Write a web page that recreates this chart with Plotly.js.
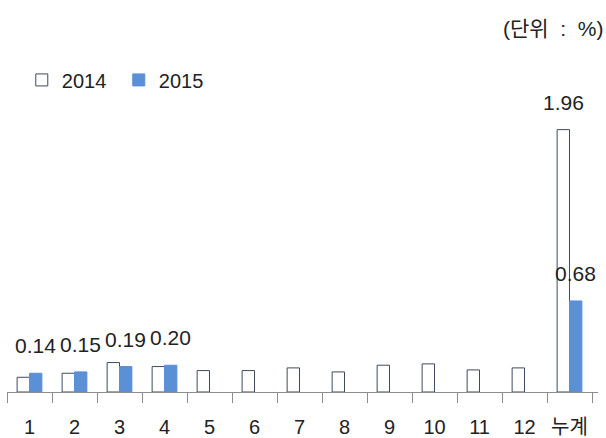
<!DOCTYPE html>
<html>
<head>
<meta charset="utf-8">
<script src="https://cdn.plot.ly/plotly-3.0.1.min.js"></script>
<style>
  html, body { margin: 0; padding: 0; background: #fff; }
  #chart { width: 606px; height: 438px; }
</style>
</head>
<body>
<div id="chart"></div>
<script>
var months = ["1", "2", "3", "4", "5", "6", "7", "8", "9", "10", "11", "12", "누계"]
var rate2014 = [0.11, 0.14, 0.22, 0.19, 0.16, 0.16, 0.18, 0.15, 0.20, 0.21, 0.165, 0.18, 1.96]
var rate2015 = [0.14, 0.15, 0.19, 0.20, null, null, null, null, null, null, null, null, 0.68]

// only these values get a label in the original
var label2014 = [null, null, null, null, null, null, null, null, null, null, null, null, "1.96"]
var label2015 = ["0.14", "0.15", "0.19", "0.20", null, null, null, null, null, null, null, null, "0.68"]

var font = "Liberation Sans, Arial, Noto Sans CJK KR, sans-serif"

var data = [{
    x: months,
    y: rate2014,
    name: "2014",
    type: "bar",
    marker: {color: "#ffffff", line: {color: "#3f4b5a", width: 1}},
    hoverinfo: "none"
}, {
    x: months,
    y: rate2015,
    name: "2015",
    type: "bar",
    marker: {color: "#5b8fd6", line: {color: "#5b8fd6", width: 1}},
    hoverinfo: "none"
}]

var notes = []
var addLabels = function (labels, values, shift) {
    for (let i = 0; i < labels.length; i++) {
        if (labels[i] == null) continue
        // category index, a string like "1" would be read as an index anyway
        notes.push({
            x: i, y: values[i], xref: "x", yref: "y",
            text: labels[i], showarrow: false,
            xshift: shift, yshift: 14, yanchor: "bottom",
            font: {family: font, size: 21, color: "#222"}
        })
    }
}
addLabels(label2014, rate2014, -6)
addLabels(label2015, rate2015, 6)

var sp = "\u00a0\u00a0"
notes.push({
    x: 1, y: 1, xref: "paper", yref: "paper",
    xanchor: "right", yanchor: "middle",
    xshift: 7, yshift: 32,
    text: "(단위" + sp + ":" + sp + "%)", showarrow: false,
    font: {family: font, size: 21, color: "#222"}
})

var layout = {
    width: 606,
    height: 438,
    margin: {l: 7, r: 8, t: 60, b: 46},
    paper_bgcolor: "#ffffff",
    plot_bgcolor: "#ffffff",
    font: {family: font, size: 20, color: "#222"},
    barmode: "group",
    bargap: 0.45,
    bargroupgap: 0,
    showlegend: true,
    legend: {
        orientation: "h", x: 0.025, y: 0.94, xanchor: "left", yanchor: "middle",
        font: {family: font, size: 20, color: "#222"},
        itemwidth: 30, entrywidth: 52, tracegroupgap: 0
    },
    xaxis: {
        type: "category",
        showline: true, linecolor: "#8c8c8c", linewidth: 1,
        ticks: "outside", tickson: "boundaries", ticklen: 10, tickcolor: "#8c8c8c",
        tickangle: 0, automargin: false,
        ticklabelstandoff: 17,
        showgrid: false, zeroline: false, fixedrange: true
    },
    yaxis: {
        range: [0, 2.48],
        visible: false, showgrid: false, zeroline: false, fixedrange: true
    },
    annotations: notes
}

Plotly.newPlot("chart", data, layout, {displayModeBar: false, staticPlot: true})
</script>
</body>
</html>
